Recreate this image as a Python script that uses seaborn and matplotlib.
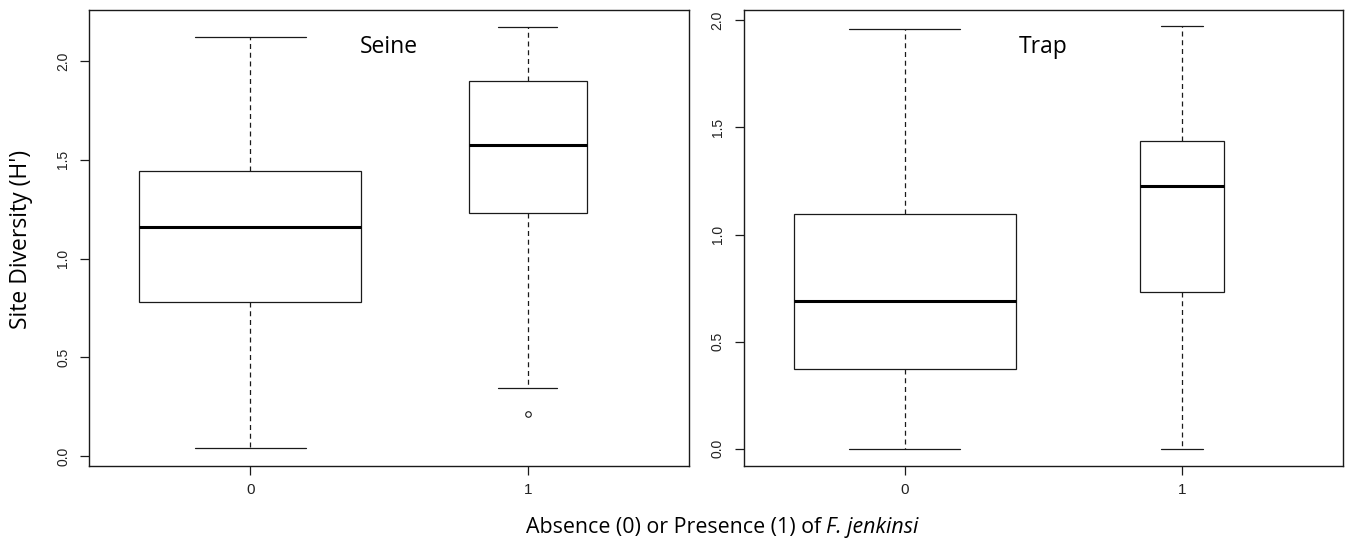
import numpy as np
import pandas as pd
import matplotlib
matplotlib.use("Agg")
import matplotlib.pyplot as plt
import seaborn as sns

groups = ["0", "1"]

# five-number summaries: low whisker, Q1, median, Q3, high whisker
seine_absent = [0.040, 0.781, 1.158, 1.444, 2.122]
seine_present = [0.346, 1.231, 1.577, 1.898, 2.174]
seine_outliers = [0.213]

trap_absent = [0.0, 0.374, 0.690, 1.096, 1.957]
trap_present = [0.0, 0.733, 1.228, 1.436, 1.972]
trap_outliers = []

y_ticks = [0.0, 0.5, 1.0, 1.5, 2.0]
y_tick_labels = ["0.0", "0.5", "1.0", "1.5", "2.0"]

sns.set_style("ticks")
plt.rcParams["font.family"] = ["Liberation Sans", "DejaVu Sans"]

LINE = "#1a1a1a"
LABEL_FONT = ["Open Sans", "DejaVu Sans"]


def draw_panel(ax, absent, present, outliers, widths, title, ylim):

    for grp, vals, w in zip(groups, [absent, present], widths):
        df = pd.DataFrame({"group": grp, "H": vals})
        sns.boxplot(data=df, x="group", y="H", order=groups, width=w, ax=ax,
                    color="white", linecolor=LINE, linewidth=0.9, showfliers=False,
                    whiskerprops=dict(linestyle=(0, (4, 3))),
                    medianprops=dict(linewidth=2.2, color="black"))

    # points beyond the whiskers
    if outliers:
        ax.plot([1] * len(outliers), outliers, linestyle="none", marker="o",
                mfc="none", mec=LINE, ms=4, mew=0.8)

    ax.set_xlim(-0.58, 1.58)
    ax.set_ylim(*ylim)
    ax.set_yticks(y_ticks)
    ax.set_yticklabels(y_tick_labels)
    ax.set_xlabel("")
    ax.set_ylabel("")

    for s in ax.spines.values():
        s.set_visible(True)
        s.set_linewidth(1.0)
        s.set_color(LINE)

    ax.tick_params(axis="both", length=6.2, width=0.9, color=LINE, labelcolor="#222222")
    ax.tick_params(axis="x", pad=6, labelsize=11)
    ax.tick_params(axis="y", pad=7.5, labelsize=10, labelrotation=90)
    for lab in ax.get_yticklabels():
        lab.set_va("center")

    ax.text(0.5, 0.918, title, transform=ax.transAxes, ha="center", va="center",
            fontsize=16.5, family=LABEL_FONT, color="black")


fig = plt.figure(figsize=(13.48, 5.41), dpi=100)
ax1 = fig.add_axes([0.0662, 0.139, 0.4448, 0.843])
ax2 = fig.add_axes([0.5516, 0.139, 0.4448, 0.843])

draw_panel(ax1, seine_absent, seine_present, seine_outliers, [0.8, 0.427], "Seine", (-0.049, 2.26))
draw_panel(ax2, trap_absent, trap_present, trap_outliers, [0.8, 0.305], "Trap", (-0.079, 2.049))

fig.text(21 / 1348, 1 - 239 / 541, "Site Diversity (H')", rotation=90, ha="center",
         va="center", fontsize=16.5, family=LABEL_FONT, color="black")

# x label with the species name in italics
fig.canvas.draw()
r = fig.canvas.get_renderer()
y_lab = 1 - 527 / 541
t1 = fig.text(0, y_lab, "Absence (0) or Presence (1) of ", ha="left", va="center",
              fontsize=15.4, family=LABEL_FONT, color="black")
t2 = fig.text(0, y_lab, "F. jenkinsi", ha="left", va="center", fontsize=15.4,
              family=LABEL_FONT, style="italic", color="black")
w1 = t1.get_window_extent(r).width
w2 = t2.get_window_extent(r).width
x0 = 722 - (w1 + w2) / 2
t1.set_x(x0 / 1348)
t2.set_x((x0 + w1) / 1348)

fig.savefig("out.png", dpi=100, facecolor="white")
